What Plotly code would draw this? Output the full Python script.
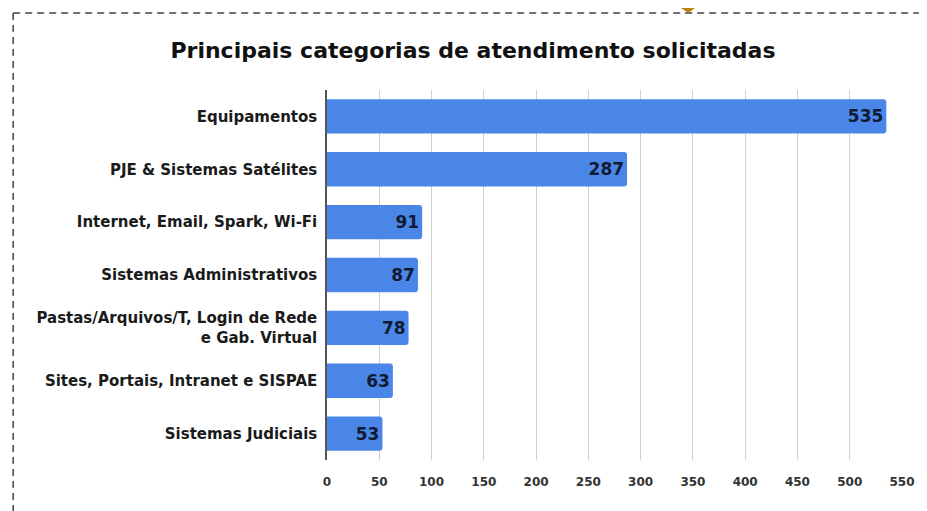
import plotly.graph_objects as go

categories = [
    "Equipamentos",
    "PJE & Sistemas Satélites",
    "Internet, Email, Spark, Wi-Fi",
    "Sistemas Administrativos",
    "Pastas/Arquivos/T, Login de Rede<br>e Gab. Virtual",
    "Sites, Portais, Intranet e SISPAE",
    "Sistemas Judiciais",
]
values = [535, 287, 91, 87, 78, 63, 53]
x_ticks = [0, 50, 100, 150, 200, 250, 300, 350, 400, 450, 500, 550]

# page has an 8px body margin, so the figure is 8px smaller and offset
OFF = 8
W, H = 927 - OFF, 511 - OFF
ML, MR, MT, MB = 327 - OFF, 21, 90 - OFF, 51
pw = W - ML - MR
ph = H - MT - MB

FONT = "DejaVu Sans"

fig = go.Figure()
fig.add_trace(go.Bar(
    x=values,
    y=categories,
    orientation="h",
    marker=dict(color="#4a86e8", line=dict(width=0)),
    text=[str(v) for v in values],
    textposition="inside",
    insidetextanchor="end",
    textfont=dict(family=FONT, size=17, color="#111a33", weight="bold"),
    cliponaxis=False,
    hoverinfo="skip",
))

def px_x(px):
    return (px - OFF - ML) / pw

def px_y(py):
    return 1 - (py - OFF - MT) / ph

shapes = [
    dict(type="line", xref="paper", yref="paper",
         x0=px_x(11), x1=px_x(940), y0=px_y(13), y1=px_y(13),
         line=dict(color="#444444", width=1.5, dash="7px,5px")),
    dict(type="line", xref="paper", yref="paper",
         x0=px_x(11), x1=px_x(11), y0=px_y(13), y1=px_y(520),
         line=dict(color="#444444", width=1.5, dash="7px,5px")),
    dict(type="path", xref="paper", yref="paper",
         path=(f"M {px_x(680)},{px_y(0)} L {px_x(704)},{px_y(0)} "
               f"L {px_x(700)},{px_y(6)} L {px_x(691)},{px_y(13)} "
               f"L {px_x(682)},{px_y(7)} Z"),
         fillcolor="#b8860b", line=dict(width=0)),
]

fig.update_layout(
    width=W, height=H,
    margin=dict(l=ML, r=MR, t=MT, b=MB),
    paper_bgcolor="white",
    plot_bgcolor="white",
    bargap=0.35,
    barcornerradius=3,
    showlegend=False,
    font=dict(family=FONT, color="#222222"),
    title=dict(
        text="<b>Principais categorias de atendimento solicitadas</b>",
        x=(473 - OFF) / W, xref="container", xanchor="center",
        y=1 - (50 - OFF) / H, yref="container", yanchor="middle",
        font=dict(family=FONT, size=22, color="#111111"),
    ),
    shapes=shapes,
    xaxis=dict(
        range=[0, 550],
        tickvals=x_ticks,
        ticktext=[f"<b>{t}</b>" for t in x_ticks],
        showgrid=True, gridcolor="#d0d0d0", gridwidth=1,
        zeroline=False,
        showline=False,
        ticks="",
        ticklabelstandoff=13,
        tickfont=dict(family=FONT, size=12, color="#333333"),
        fixedrange=True,
    ),
    yaxis=dict(
        categoryorder="array",
        categoryarray=categories[::-1],
        autorange=False,
        range=[-0.5, len(categories) - 0.5],
        showgrid=False,
        showline=True, linecolor="#555555", linewidth=1.5,
        ticks="",
        ticklabelstandoff=5,
        tickfont=dict(family=FONT, size=15, color="#1a1a1a", weight="bold"),
        fixedrange=True,
    ),
)

fig.write_html("out.html")
